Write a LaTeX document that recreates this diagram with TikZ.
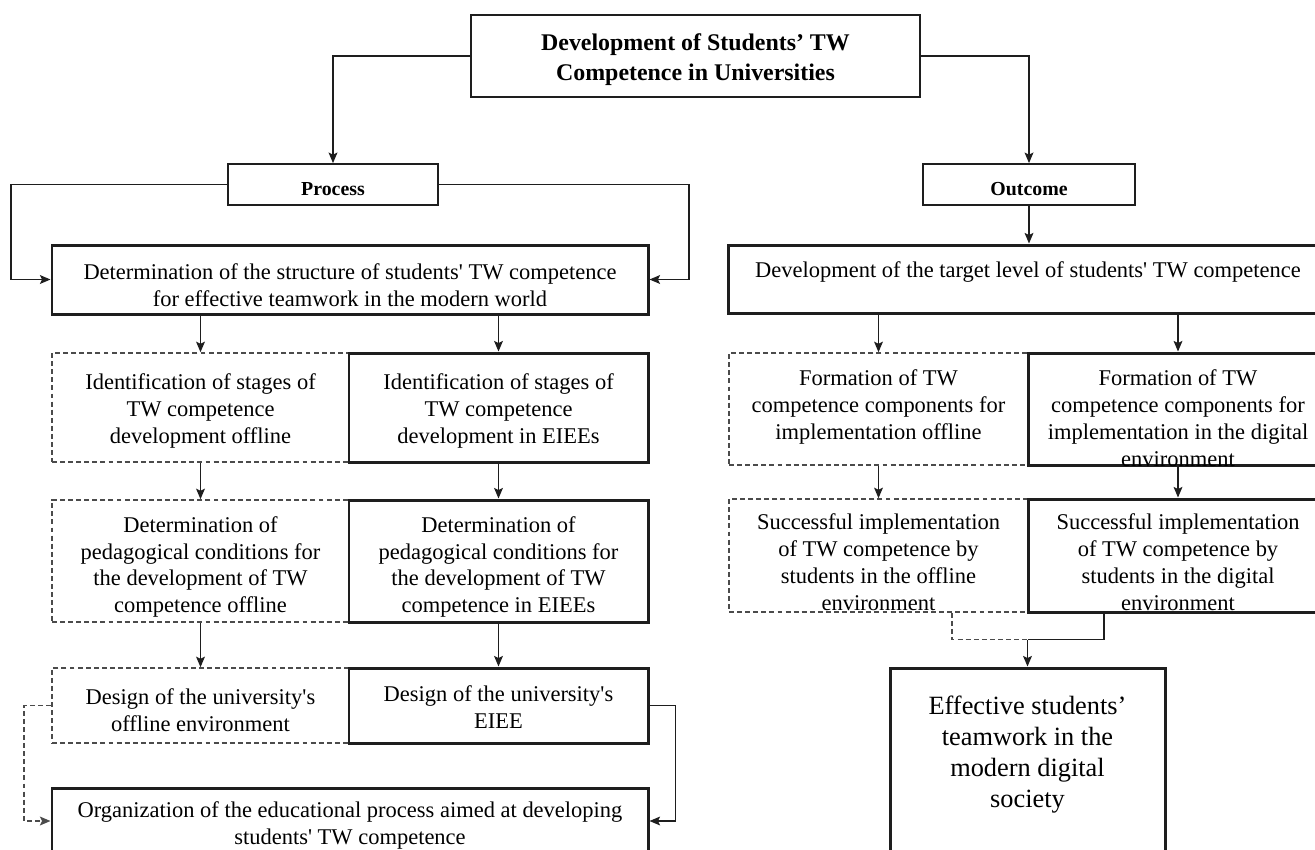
\documentclass[tikz,border=0pt]{standalone}
\usepackage{fontspec}
\setmainfont{Liberation Serif}[Ligatures=TeXOff]
\usetikzlibrary{arrows.meta,fit,calc}
\definecolor{dashgray}{RGB}{75,75,75}
\definecolor{inkline}{RGB}{30,30,30}
\tikzset{
  body/.style={font=\fontsize{12.8}{15.3}\selectfont, align=center, inner sep=0pt},
  bigbody/.style={font=\fontsize{15}{17.6}\selectfont, align=center, inner sep=0pt},
  titlefont/.style={font=\fontsize{13.6}{17}\selectfont\bfseries, align=center, inner sep=0pt},
  headfont/.style={font=\fontsize{11.3}{14}\selectfont\bfseries, align=center, inner sep=0pt},
  thinbox/.style={draw=inkline, line width=1pt, inner sep=0pt},
  thickbox/.style={draw=inkline, line width=1.7pt, inner sep=0pt},
  dashbox/.style={draw=dashgray, line width=0.9pt, dash pattern=on 2.8pt off 1.8pt, inner sep=0pt},
  arr/.style={draw=inkline, line width=0.8pt, -{Stealth[length=6pt,width=5pt,inset=1.2pt]}},
  link/.style={draw=inkline, line width=0.8pt},
  dashlink/.style={draw=dashgray, line width=0.9pt, dash pattern=on 2.8pt off 1.8pt},
}
\begin{document}
\begin{tikzpicture}[x=0.02cm,y=-0.02cm]
\useasboundingbox (0,0) rectangle (1315,849);
\fill[white] (0,0) rectangle (1315,849);
\clip (0,0) rectangle (1315,849);

% heading boxes
\node[thinbox, fit={(471,15) (920,97)}] (top) {};
\node[titlefont] (top-t) at ($(top.center)+(0,4)$) {Development of Students’ TW\\Competence in Universities};
\node[thinbox, fit={(228,164) (438,205)}] (proc) {};
\node[headfont] (proc-t) at ($(proc.center)+(0,4.5)$) {Process};
\node[thinbox, fit={(923,164) (1135,205)}] (out) {};
\node[headfont] (out-t) at ($(out.center)+(0,4.5)$) {Outcome};

% process column
\node[thickbox, fit={(52,245) (648,314)}] (det) {};
\node[body] (det-t) at ($(det.center)+(0,6)$) {Determination of the structure of students' TW competence\\for effective teamwork in the modern world};

\node[dashbox, fit={(52,353) (349,462)}] (l1a) {};
\node[body] (l1a-t) at ($(l1a.center)+(0,3.5)$) {Identification of stages of\\TW competence\\development offline};
\node[thickbox, fit={(349,353) (648,462)}] (l1b) {};
\node[body] (l1b-t) at ($(l1b.center)+(0,3.5)$) {Identification of stages of\\TW competence\\development in EIEEs};

\node[dashbox, fit={(52,500) (349,622)}] (l2a) {};
\node[body] (l2a-t) at ($(l2a.center)+(0,6)$) {Determination of\\pedagogical conditions for\\the development of TW\\competence offline};
\node[thickbox, fit={(349,500) (648,622)}] (l2b) {};
\node[body] (l2b-t) at ($(l2b.center)+(0,6)$) {Determination of\\pedagogical conditions for\\the development of TW\\competence in EIEEs};

\node[dashbox, fit={(52,668) (349,743)}] (l3a) {};
\node[body] (l3a-t) at ($(l3a.center)+(0,5)$) {Design of the university's\\offline environment};
\node[thickbox, fit={(349,668) (648,743)}] (l3b) {};
\node[body] (l3b-t) at ($(l3b.center)+(0,1.5)$) {Design of the university's\\EIEE};

\node[thickbox, fit={(52,788) (648,854)}] (org) {};
\node[body] (org-t) at ($(org.center)+(0,4.5)$) {Organization of the educational process aimed at developing\\students' TW competence};

% outcome column
\node[thickbox, fit={(728,245) (1328,313)}] (dev) {};
\node[body] (dev-t) at ($(dev.center)+(0,-7)$) {Development of the target level of students' TW competence};

\node[dashbox, fit={(729,353) (1028,465)}] (r1a) {};
\node[body] (r1a-t) at ($(r1a.center)+(0,-2)$) {Formation of TW\\competence components for\\implementation offline};
\node[thickbox, fit={(1028,353) (1328,465)}] (r1b) {};
\node[body] (r1b-t) at ($(r1b.center)+(0,9.5)$) {Formation of TW\\competence components for\\implementation in the digital\\environment};

\node[dashbox, fit={(729,499) (1028,612)}] (r2a) {};
\node[body] (r2a-t) at ($(r2a.center)+(0,7)$) {Successful implementation\\of TW competence by\\students in the offline\\environment};
\node[thickbox, fit={(1028,499) (1328,612)}] (r2b) {};
\node[body] (r2b-t) at ($(r2b.center)+(0,7)$) {Successful implementation\\of TW competence by\\students in the digital\\environment};

\node[thickbox, fit={(890,668) (1165,900)}] (eff) {};
\node[bigbody] (eff-t) at ($(eff.north)+(0,88)$) {Effective students’\\teamwork in the\\modern digital\\society};

% connectors from the heading
\draw[arr] (top.west) -| (proc.north);
\draw[arr] (top.east) -| (out.north);
\draw[arr] (proc.west) -- ++(-216,0) |- (det.west);
\draw[arr] (proc.east) -- ++(250,0) |- (det.east);
\draw[arr] (out.south) -- (out.south |- dev.north);

% process chain
\draw[arr] (l1a.north |- det.south) -- (l1a.north);
\draw[arr] (l1b.north |- det.south) -- (l1b.north);
\draw[arr] (l1a.south) -- (l2a.north);
\draw[arr] (l1b.south) -- (l2b.north);
\draw[arr] (l2a.south) -- (l3a.north);
\draw[arr] (l2b.south) -- (l3b.north);
\draw[dashlink, -{Stealth[length=6pt,width=5pt,inset=1.2pt]}] (l3a.west) -- ++(-27,0) |- (org.west);
\draw[arr] (l3b.east) -- ++(26,0) |- (org.east);

% outcome chain
\draw[arr] (r1a.north |- dev.south) -- (r1a.north);
\draw[arr] (r1b.north |- dev.south) -- (r1b.north);
\draw[arr] (r1a.south) -- (r2a.north);
\draw[arr] (r1b.south) -- (r2b.north);
\coordinate (join) at ($(eff.north)+(0,-27)$);
\draw[dashlink] ($(r2a.south)+(73.5,0)$) |- (join);
\draw[link] ($(r2b.south)+(-74,0)$) |- (join);
\draw[arr] (join) -- (eff.north);
\end{tikzpicture}
\end{document}
